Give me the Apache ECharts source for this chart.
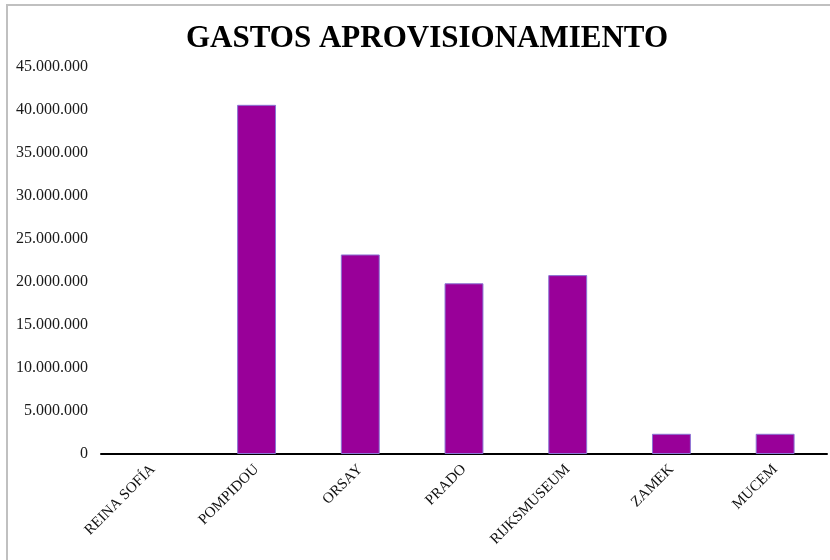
<!DOCTYPE html>
<html>
<head>
<meta charset="utf-8">
<script src="https://cdn.jsdelivr.net/npm/echarts@6/dist/echarts.min.js"></script>
<style>
  html, body { margin: 0; padding: 0; background: #fff; }
  #chart { width: 830px; height: 560px; }
</style>
</head>
<body>
<div id="chart"></div>
<script>
  const museos = ['REINA SOFÍA', 'POMPIDOU', 'ORSAY', 'PRADO', 'RIJKSMUSEUM', 'ZAMEK', 'MUCEM'];
  const gastos = [0, 40600000, 23200000, 19850000, 20800000, 2350000, 2350000];
  const tituloTexto = 'GASTOS APROVISIONAMIENTO';

  // 45000000 -> "45.000.000"
  function puntos(v) {
    return String(v).replace(/\B(?=(\d{3})+(?!\d))/g, '.');
  }

  const myChart = echarts.init(document.getElementById('chart'));

  myChart.setOption({
    backgroundColor: '#fff',
    animation: false,
    title: {
      text: tituloTexto,
      left: 181,
      top: 18,
      textStyle: {
        fontFamily: 'Liberation Serif',
        fontWeight: 'bold',
        fontSize: 31,
        color: '#000'
      }
    },
    graphic: [
      {
        type: 'rect',
        shape: { x: 7, y: 5, width: 840, height: 570 },
        style: { fill: 'none', stroke: '#c0c0c0', lineWidth: 2 },
        silent: true
      }
    ],
    grid: {
      left: 101,
      right: 3,
      top: 67,
      bottom: 106
    },
    xAxis: {
      type: 'category',
      data: museos,
      axisLine: { lineStyle: { color: '#000', width: 2 } },
      axisTick: { show: false },
      axisLabel: {
        rotate: 45,
        interval: 0,
        margin: 13,
        fontFamily: 'Liberation Serif',
        fontSize: 15,
        color: '#111'
      }
    },
    yAxis: {
      type: 'value',
      min: 0,
      max: 45000000,
      interval: 5000000,
      axisLine: { show: false },
      axisTick: { show: false },
      splitLine: { show: false },
      axisLabel: {
        margin: 13,
        fontFamily: 'Liberation Serif',
        fontSize: 16,
        color: '#1a1a1a',
        formatter: puntos
      }
    },
    series: [
      {
        type: 'bar',
        data: gastos.map(function (v) {
          return v === 0 ? { value: v, itemStyle: { borderWidth: 0 } } : v;
        }),
        barWidth: '37.5%',
        itemStyle: {
          color: '#990099',
          borderColor: '#8a74d4',
          borderWidth: 1
        }
      }
    ]
  });
</script>
</body>
</html>
